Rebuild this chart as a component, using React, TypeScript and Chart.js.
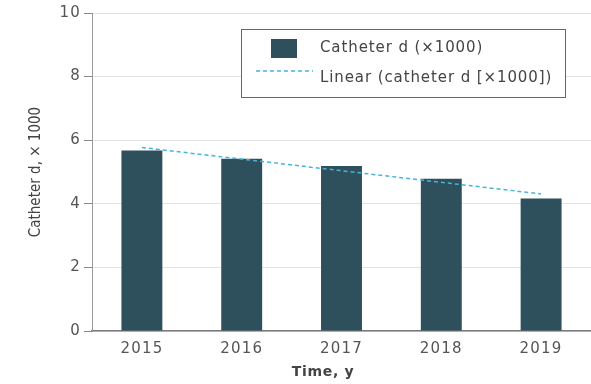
import React, { useEffect, useRef } from "react";
import { Chart, registerables } from "chart.js";

Chart.register(...registerables);

// Catheter days per year (thousands)
const years = ["2015", "2016", "2017", "2018", "2019"];
const catheterDays = [5.68, 5.42, 5.19, 4.79, 4.17];
// Linear trend: endpoints only, drawn straight across the gap
const linearTrend = [5.77, null, null, null, 4.31];
const yTicks = [0, 2, 4, 6, 8, 10];

const barLabel = "Catheter d (\u00d71000)";
const trendLabel = "Linear (catheter d [\u00d71000])";
const yTitle = "Catheter d, \u00d7 1000";
const xTitle = "Time, y";

const BAR_COLOR = "#2e4f5c";
const TREND_COLOR = "#45b5d9";

// Slightly tracked-out text for the tick labels
const spacingPlugin = {
  id: "spacing",
  beforeDraw(chart: any) {
    (chart.ctx as any).letterSpacing = "1.2px";
  },
  afterDatasetsDraw(chart: any) {
    (chart.ctx as any).letterSpacing = "0px";
  },
};

const overlayPlugin = {
  id: "overlay",
  afterDraw(chart: any) {
    const ctx = chart.ctx as any;
    const area = chart.chartArea;
    ctx.save();

    // axis titles
    ctx.fillStyle = "#444";
    ctx.textAlign = "center";
    ctx.textBaseline = "middle";
    ctx.letterSpacing = "0.7px";
    ctx.font = "bold 14px 'DejaVu Sans', sans-serif";
    ctx.fillText(xTitle, 323, 372);

    ctx.save();
    ctx.letterSpacing = "0px";
    ctx.translate(36, (area.top + area.bottom) / 2);
    ctx.rotate(-Math.PI / 2);
    ctx.font = "15px 'DejaVu Sans Condensed', 'Liberation Sans Narrow', sans-serif";
    ctx.fillText(yTitle, 0, 0);
    ctx.restore();

    // legend box
    ctx.fillStyle = "#fff";
    ctx.fillRect(241.5, 29.5, 324, 68);
    ctx.strokeStyle = "#666";
    ctx.lineWidth = 1;
    ctx.strokeRect(241.5, 29.5, 324, 68);

    ctx.fillStyle = BAR_COLOR;
    ctx.fillRect(271, 39, 26, 19);

    ctx.strokeStyle = TREND_COLOR;
    ctx.lineWidth = 1.5;
    ctx.setLineDash([4, 3]);
    ctx.beginPath();
    ctx.moveTo(256, 71);
    ctx.lineTo(313, 71);
    ctx.stroke();
    ctx.setLineDash([]);

    ctx.fillStyle = "#444";
    ctx.textAlign = "left";
    ctx.letterSpacing = "0.9px";
    ctx.font = "15px 'DejaVu Sans', sans-serif";
    ctx.fillText(barLabel, 320, 48);
    ctx.fillText(trendLabel, 320, 78);

    ctx.restore();
  },
};

export default function App() {
  const canvasRef = useRef<HTMLCanvasElement | null>(null);

  useEffect(() => {
    const canvas = canvasRef.current;
    if (!canvas) return;
    const chart = new Chart(canvas, {
      type: "bar",
      data: {
        labels: years,
        datasets: [
          {
            type: "line",
            label: trendLabel,
            data: linearTrend,
            borderColor: TREND_COLOR,
            borderWidth: 1.5,
            borderDash: [4, 3],
            pointRadius: 0,
            spanGaps: true,
            fill: false,
            order: 0,
          } as any,
          {
            type: "bar",
            label: barLabel,
            data: catheterDays,
            backgroundColor: BAR_COLOR,
            barPercentage: 0.41,
            categoryPercentage: 1,
            order: 1,
          },
        ],
      },
      options: {
        responsive: false,
        animation: false,
        layout: { padding: { top: 13, left: 0, right: 0, bottom: 0 } },
        plugins: {
          legend: { display: false },
          tooltip: { enabled: false },
        },
        scales: {
          x: {
            grid: { display: false, drawTicks: false },
            border: { display: true, color: "#7a7a7a", width: 1.5 },
            ticks: {
              color: "#555",
              font: { family: "'DejaVu Sans', sans-serif", size: 15 },
              padding: 9,
              maxRotation: 0,
            },
            afterFit: (scale: any) => {
              scale.height = 53;
            },
          },
          y: {
            min: 0,
            max: 10,
            afterBuildTicks: (scale: any) => {
              scale.ticks = yTicks.map((v) => ({ value: v }));
            },
            grid: {
              color: "#e2e2e2",
              tickColor: "#888",
              tickLength: 8,
              lineWidth: 1,
            },
            border: { display: true, color: "#999", width: 1 },
            ticks: {
              color: "#555",
              font: { family: "'DejaVu Sans', sans-serif", size: 15 },
              padding: 3,
            },
            afterFit: (scale: any) => {
              scale.width = 92;
            },
          },
        },
      },
      plugins: [spacingPlugin, overlayPlugin],
    });
    return () => chart.destroy();
  }, []);

  return (
    <div style={{ position: "fixed", left: 0, top: 0, width: 591, height: 384, background: "#fff" }}>
      <canvas ref={canvasRef} width={591} height={384} style={{ display: "block" }} />
    </div>
  );
}
